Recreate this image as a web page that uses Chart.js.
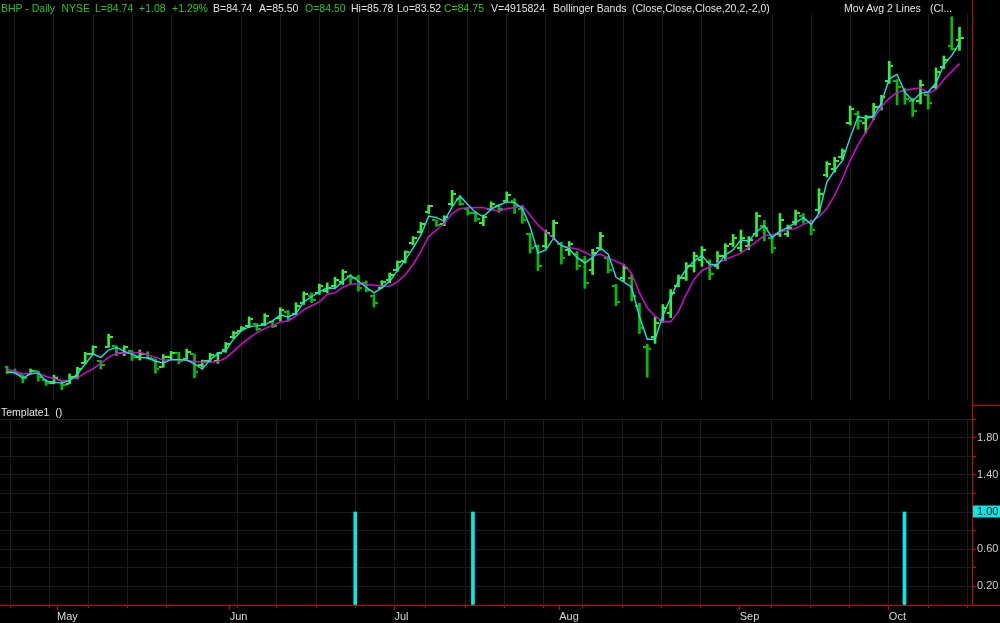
<!DOCTYPE html>
<html><head><meta charset="utf-8">
<script src="https://cdn.jsdelivr.net/npm/chart.js@4.4.1/dist/chart.umd.min.js"></script>
<style>
html,body{margin:0;padding:0;background:#000;}
#wrap{position:relative;width:1000px;height:623px;background:#000;overflow:hidden;font-family:"Liberation Sans",Arial,sans-serif;}
canvas{position:absolute;left:0;}
.t{position:absolute;top:2px;font-size:10.5px;line-height:12px;white-space:pre;color:#e4e4e4;}
.g{color:#22c922;}
</style></head><body>
<div id="wrap">
<canvas id="cTop" width="1000" height="405" style="top:0"></canvas>
<canvas id="cBot" width="1000" height="218" style="top:405px"></canvas>
<span class="t g" style="left:1px">BHP - Daily</span>
<span class="t g" style="left:61.5px">NYSE</span>
<span class="t g" style="left:95px">L=84.74</span>
<span class="t g" style="left:139px">+1.08</span>
<span class="t g" style="left:172px">+1.29%</span>
<span class="t" style="left:213px">B=84.74</span>
<span class="t" style="left:259px">A=85.50</span>
<span class="t g" style="left:305px">O=84.50</span>
<span class="t" style="left:351px">Hi=85.78</span>
<span class="t" style="left:397px">Lo=83.52</span>
<span class="t g" style="left:444px">C=84.75</span>
<span class="t" style="left:491px">V=4915824</span>
<span class="t" style="left:553px">Bollinger Bands</span>
<span class="t" style="left:632px">(Close,Close,Close,20,2,-2,0)</span>
<span class="t" style="left:844px">Mov Avg 2 Lines</span>
<span class="t" style="left:930px">(Cl...</span>
<span class="t" style="left:1px;top:406px">Template1  ()</span>
</div>
<script>
// ---- data (index = trading day, 0 = Apr 20) ----
const monthLabels = ['May','Jun','Jul','Aug','Sep','Oct'];
const monthStart = [7,29,50,71,94,113];
const mondays = [1,6,11,16,21,30,35,40,45,50,54,59,64,69,74,79,84,89,98,103,108,113,118,123];

const open = [52.68,52.20,51.88,52.03,52.29,51.45,51.13,51.42,51.06,51.71,
53.06,53.96,53.33,54.61,54.77,54.03,54.29,53.64,53.93,53.48,
52.68,53.64,54.03,53.48,53.96,52.87,53.26,53.26,54.32,55.58,
56.25,56.74,56.93,56.93,57.12,57.51,58.09,57.89,58.96,59.63,
59.92,60.12,60.60,60.99,61.57,61.37,60.89,59.63,60.41,61.18,
62.15,63.01,64.75,65.82,67.84,66.98,66.59,68.62,69.10,68.13,
67.65,66.69,68.13,68.33,68.91,68.91,68.13,65.62,64.46,64.46,
65.43,64.66,64.08,63.69,63.11,62.15,64.27,63.30,60.60,61.37,
61.37,58.67,54.61,55.58,57.32,57.99,60.60,61.37,62.53,63.11,
62.92,62.53,63.50,64.66,64.27,64.46,65.62,66.40,65.24,65.62,
65.62,66.78,67.36,66.78,67.94,71.42,72.00,73.16,76.44,77.31,
76.44,77.02,77.99,80.50,80.50,79.53,78.57,78.57,79.15,79.92,
81.95,83.98,84.50];

const high = [52.78,52.51,51.88,52.51,52.29,51.45,51.91,51.42,52.03,52.68,
54.13,54.77,53.33,55.90,54.77,54.77,54.29,54.35,54.19,53.48,
53.91,54.22,54.13,54.45,53.96,53.38,54.03,54.13,55.09,56.16,
56.64,57.58,56.93,57.89,57.19,58.47,58.21,58.96,60.02,59.92,
60.79,60.89,61.44,62.17,61.69,61.63,61.08,59.76,61.11,61.86,
63.04,64.01,65.40,66.78,68.45,67.00,67.43,69.90,69.26,68.20,
67.82,67.49,68.78,68.52,69.75,69.10,68.45,65.72,64.59,66.04,
67.00,64.85,64.92,63.95,63.47,64.17,65.82,63.47,60.74,62.68,
61.71,58.91,54.93,57.56,58.79,60.24,61.66,62.87,63.88,64.43,
63.14,63.95,64.71,65.62,66.04,65.40,67.75,67.00,65.56,67.65,
66.52,67.97,67.65,67.00,70.07,72.70,73.13,73.93,78.11,77.60,
77.21,78.37,79.15,82.46,80.69,79.82,78.86,80.64,79.24,81.82,
82.98,86.81,85.78];

const low = [52.05,52.03,51.16,52.03,51.33,50.91,51.06,50.49,51.06,51.55,
53.06,53.96,52.51,54.61,53.81,53.81,53.33,53.38,53.48,52.10,
52.68,53.48,53.00,53.48,51.64,52.68,53.16,53.06,54.13,55.48,
56.22,56.54,56.22,56.71,56.54,57.19,57.19,57.77,58.79,58.96,
59.76,59.92,60.41,60.73,60.73,60.09,60.02,58.54,60.41,60.89,
62.02,62.82,64.59,65.72,67.65,66.37,66.46,68.40,68.45,67.49,
66.85,66.46,67.97,67.75,68.78,67.65,66.69,63.79,62.08,64.27,
65.24,62.72,63.57,62.17,60.36,61.71,64.08,61.86,58.67,61.08,
59.12,55.96,51.71,55.00,57.03,57.51,60.50,61.13,61.95,62.50,
61.21,62.26,63.06,64.43,63.95,64.11,65.40,64.98,63.79,65.40,
65.40,66.52,66.69,65.56,67.65,71.20,71.68,72.90,76.27,75.86,
75.48,76.78,77.72,80.31,78.23,78.28,77.09,78.31,77.82,79.73,
81.76,83.55,83.52];

const close = [52.20,52.13,51.64,52.29,51.71,51.13,51.62,50.94,51.71,52.49,
53.93,54.61,52.87,55.58,54.03,54.61,53.64,53.93,53.58,52.49,
53.64,54.03,53.26,54.13,52.20,53.26,53.84,54.03,54.90,56.06,
56.54,57.41,56.45,57.70,56.74,58.28,57.41,58.67,59.83,59.25,
60.60,60.41,61.18,61.95,61.37,60.41,60.21,58.96,60.99,61.66,
62.92,63.88,65.24,66.59,68.33,66.49,67.27,69.58,68.62,67.65,
67.07,67.27,68.62,68.13,69.49,68.33,66.98,64.27,62.53,65.72,
66.69,63.30,64.66,62.53,60.89,63.79,65.43,62.15,59.05,62.34,
59.63,56.54,54.42,57.03,58.47,59.92,61.37,62.53,63.50,64.08,
61.76,63.50,64.46,65.24,65.24,65.04,67.36,66.20,64.27,66.98,
66.20,67.65,66.98,66.01,69.58,72.48,72.77,73.74,77.79,76.64,
77.02,77.99,78.95,82.04,79.92,78.76,77.60,80.11,78.37,81.47,
82.62,83.67,84.75];

const maFast = [52.20,52.13,51.64,52.03,52.13,51.33,51.23,51.13,51.39,52.03,
53.00,53.96,53.64,54.35,54.61,54.22,53.96,53.64,53.58,53.26,
53.09,53.42,53.42,53.38,53.00,52.51,53.42,54.03,54.29,55.41,
56.22,56.64,56.71,56.80,57.19,57.77,57.58,57.89,59.05,59.54,
60.02,60.41,60.34,61.05,61.63,61.05,60.47,59.92,60.41,61.05,
62.08,63.14,64.27,65.56,67.39,67.24,66.91,68.30,69.36,68.52,
67.75,67.33,68.07,68.45,68.78,68.71,68.13,66.37,63.79,64.11,
65.24,64.53,64.20,63.37,62.82,63.37,64.27,63.69,61.44,60.99,
60.47,57.61,55.41,55.41,57.70,59.44,61.08,62.24,63.01,63.55,
62.72,62.63,63.62,64.11,65.07,64.98,65.88,66.46,65.30,65.94,
66.27,66.75,67.24,66.59,67.65,70.71,71.83,72.80,75.06,77.09,
76.90,77.15,78.44,80.76,81.18,79.47,78.60,79.34,79.47,80.37,
82.14,83.01,84.24];

const maSlow = [52.49,52.29,52.03,52.10,52.10,51.78,51.55,51.33,51.45,51.64,
52.13,52.51,53.06,53.64,54.03,54.06,54.03,54.13,53.87,53.64,
53.38,53.42,53.38,53.33,53.23,53.16,53.16,53.23,53.58,54.22,
54.93,55.51,56.06,56.45,56.76,57.09,57.19,57.67,58.28,58.67,
59.05,59.78,59.92,60.47,60.79,60.79,60.73,60.67,60.57,60.57,
60.99,61.69,62.66,63.95,65.40,66.04,66.69,67.65,68.13,68.20,
68.20,68.20,68.07,67.87,68.13,68.20,68.40,67.49,66.52,65.82,
65.24,64.53,64.34,64.20,63.88,63.50,63.69,63.30,62.99,62.66,
61.81,59.92,58.47,57.65,57.12,57.12,58.09,59.78,61.23,62.10,
62.44,62.82,63.16,63.47,63.79,64.34,64.92,65.50,65.56,65.82,
66.04,66.20,66.59,66.85,67.33,68.13,69.42,71.03,72.80,74.32,
75.57,76.83,78.04,78.86,79.44,79.63,79.76,79.89,79.34,79.73,
80.69,81.47,82.24];

const signalAt = [45, 60, 115];
const signalValue = [1, 1, 1];
const labelledLevels = [0.2, 0.6, 1.0, 1.4, 1.8];
const highlightLevel = 1.0;

// ---- styling ----
const X_MIN = -0.275, X_MAX = 123.6;
const RED = '#d40000', GRID = '#1c1c1c';
const UP = '#33f033', DN = '#00c000';
const CYAN = '#12e6e6', MAG = '#dc00dc', SIG = '#00ecec';
Chart.defaults.font.family = '"Liberation Sans", Arial, sans-serif';

function tickImage(color, right) {
  const c = document.createElement('canvas');
  c.width = 8; c.height = 2;
  const g = c.getContext('2d');
  g.fillStyle = color;
  g.fillRect(right ? 5 : 0, 0, 3, 2);
  return c;
}
const imgs = {
  openUp: tickImage(UP, false), openDn: tickImage(DN, false),
  closeUp: tickImage(UP, true), closeDn: tickImage(DN, true)
};
const isUp = i => close[i] >= open[i];
const pts = arr => arr.map((v, i) => ({x: i, y: v}));

const redTop = {
  id: 'redTop',
  afterDraw(chart) {
    const {ctx, chartArea: a} = chart;
    const x = Math.round(a.right) + 0.5;
    ctx.save(); ctx.strokeStyle = RED; ctx.lineWidth = 1;
    ctx.beginPath(); ctx.moveTo(x, 0); ctx.lineTo(x, chart.height); ctx.stroke();
    ctx.restore();
  }
};
const redBot = {
  id: 'redBot',
  afterDraw(chart) {
    const {ctx, chartArea: a} = chart;
    const x = Math.round(a.right) + 0.5;
    const yb = Math.round(a.bottom) + 0.5;
    ctx.save(); ctx.strokeStyle = RED; ctx.lineWidth = 1;
    ctx.beginPath();
    ctx.moveTo(x, 0); ctx.lineTo(x, a.top);
    ctx.moveTo(x, 0.5); ctx.lineTo(chart.width, 0.5);
    ctx.moveTo(x, yb); ctx.lineTo(chart.width, yb);
    ctx.stroke();
    ctx.restore();
  }
};

new Chart(document.getElementById('cTop'), {
  type: 'bar',
  data: {
    datasets: [
      {type: 'line', data: pts(maFast), borderColor: CYAN, borderWidth: 1.4, pointRadius: 0, tension: 0, order: 0},
      {type: 'line', data: pts(maSlow), borderColor: MAG, borderWidth: 1.5, pointRadius: 0, tension: 0, order: 1},
      {type: 'line', showLine: false, data: pts(open), pointRadius: 3, order: 2,
        pointStyle: c => isUp(c.dataIndex) ? imgs.openUp : imgs.openDn},
      {type: 'line', showLine: false, data: pts(close), pointRadius: 3, order: 2,
        pointStyle: c => isUp(c.dataIndex) ? imgs.closeUp : imgs.closeDn},
      {type: 'bar', data: low.map((v, i) => ({x: i, y: [v, high[i]]})), barThickness: 2, grouped: false,
        borderWidth: 0, order: 3, backgroundColor: c => isUp(c.dataIndex) ? UP : DN}
    ]
  },
  options: {
    responsive: false, animation: false, devicePixelRatio: 1, events: [],
    layout: {padding: {top: 14, right: 28, bottom: 2, left: 0}},
    plugins: {legend: {display: false}, tooltip: {enabled: false}},
    scales: {
      x: {type: 'linear', min: X_MIN, max: X_MAX, bounds: 'data', offset: false,
        afterBuildTicks: s => { s.ticks = mondays.map(v => ({value: v})); },
        grid: {color: GRID, drawTicks: false, offset: false}, border: {display: false}, ticks: {display: false}},
      y: {display: false, min: 49.49, max: 87.07, beginAtZero: false}
    }
  },
  plugins: [redTop]
});

new Chart(document.getElementById('cBot'), {
  type: 'bar',
  data: {
    datasets: [
      {data: signalAt.map((x, k) => ({x: x, y: signalValue[k]})), backgroundColor: SIG, barThickness: 3, borderWidth: 0}
    ]
  },
  options: {
    responsive: false, animation: false, devicePixelRatio: 1, events: [],
    layout: {padding: {top: 14, right: 0, bottom: 0, left: 0}},
    plugins: {legend: {display: false}, tooltip: {enabled: false}},
    scales: {
      x: {type: 'linear', position: 'bottom', weight: 0, min: X_MIN, max: X_MAX, bounds: 'data', offset: false,
        afterBuildTicks: s => { s.ticks = mondays.map(v => ({value: v})); },
        grid: {color: GRID, tickColor: RED, tickLength: 3, offset: false},
        border: {display: true, color: RED, width: 1},
        ticks: {display: false},
        afterFit: s => { s.height = 0; }},
      x2: {type: 'linear', position: 'bottom', weight: 1, min: X_MIN, max: X_MAX, bounds: 'data', offset: false,
        afterBuildTicks: s => { s.ticks = monthStart.map(v => ({value: v})); },
        grid: {drawOnChartArea: false, tickColor: RED, tickLength: 5, offset: false},
        border: {display: false},
        ticks: {autoSkip: false, maxRotation: 0, align: 'start', padding: 0, color: '#d8d8d8',
          font: {size: 11}, callback: (v, i) => monthLabels[i]},
        afterFit: s => { s.height = 18; }},
      y: {position: 'right', min: 0, max: 2, beginAtZero: true,
        grid: {color: c => c.tick && c.tick.value === 0 ? 'rgba(0,0,0,0)' : GRID,
               tickColor: c => c.tick && c.tick.value === 0 ? 'rgba(0,0,0,0)' : RED, tickLength: 4},
        border: {display: true, color: RED, width: 1},
        ticks: {stepSize: 0.2, padding: 1, font: {size: 11, lineHeight: 1},
          callback: v => labelledLevels.some(l => Math.abs(l - v) < 1e-6) ? v.toFixed(2) : '',
          color: c => Math.abs(c.tick.value - highlightLevel) < 1e-6 ? '#000' : '#d0d0d0',
          showLabelBackdrop: c => Math.abs(c.tick.value - highlightLevel) < 1e-6,
          backdropColor: SIG, backdropPadding: {left: 4, right: 3, top: 1, bottom: 0}},
        afterFit: s => { s.width = 28; }}
    }
  },
  plugins: [redBot]
});
</script>
</body></html>
